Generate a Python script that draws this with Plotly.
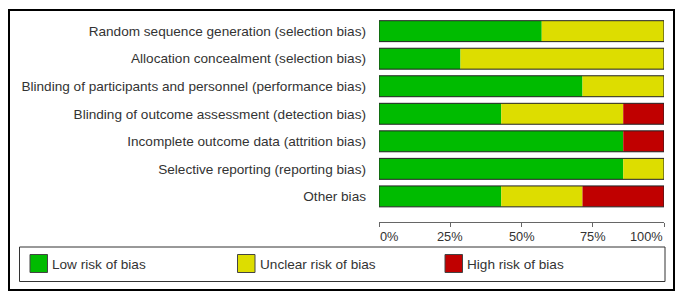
import plotly.graph_objects as go

W, H = 684, 298

categories = [
    "Random sequence generation (selection bias)",
    "Allocation concealment (selection bias)",
    "Blinding of participants and personnel (performance bias)",
    "Blinding of outcome assessment (detection bias)",
    "Incomplete outcome data (attrition bias)",
    "Selective reporting (reporting bias)",
    "Other bias",
]
low = [57.1, 28.6, 71.4, 42.9, 85.7, 85.7, 42.9]
unclear = [42.9, 71.4, 28.6, 42.8, 0.0, 14.3, 28.5]
high = [0.0, 0.0, 0.0, 14.3, 14.3, 0.0, 28.6]

series_names = ["Low risk of bias", "Unclear risk of bias", "High risk of bias"]
series_colors = ["#00BB00", "#DDDD00", "#C00000"]
tick_values = [0, 25, 50, 75, 100]
tick_labels = ["0%", "25%", "50%", "75%", "100%"]

FONT = "Liberation Sans, Arial, sans-serif"
TXT = "#333333"

def px_x(v):
    return v / W

def px_y(v):
    return (H - v) / H

base_unclear = low[:]
base_high = [a + b for a, b in zip(low, unclear)]
total = [a + b + c for a, b, c in zip(low, unclear, high)]

BW = 0.76
fig = go.Figure()
for vals, base, name, col in [
    (low, [0] * len(low), series_names[0], series_colors[0]),
    (unclear, base_unclear, series_names[1], series_colors[1]),
    (high, base_high, series_names[2], series_colors[2]),
]:
    fig.add_trace(go.Bar(
        y=categories, x=vals, base=base, orientation="h", name=name,
        marker=dict(color=col, line=dict(width=0)), width=BW,
        cliponaxis=False, showlegend=False,
    ))
# outline of each whole bar
fig.add_trace(go.Bar(
    y=categories, x=total, base=[0] * len(total), orientation="h",
    marker=dict(color="rgba(0,0,0,0)", line=dict(color="#222222", width=1)),
    width=BW, cliponaxis=False, showlegend=False, hoverinfo="skip",
))

fig.update_layout(
    width=W, height=H,
    margin=dict(l=0, r=0, t=0, b=0),
    paper_bgcolor="white", plot_bgcolor="white",
    barmode="overlay",
    font=dict(family=FONT, size=13.6, color=TXT),
    xaxis=dict(
        domain=[px_x(379), px_x(664)], range=[0, 100],
        showgrid=False, zeroline=False, showline=True, linecolor="#666666", linewidth=1,
        ticks="outside", ticklen=4, tickcolor="#666666", tickvals=tick_values,
        showticklabels=False, automargin=False, fixedrange=True,
    ),
    yaxis=dict(
        domain=[px_y(222), px_y(17.4)], type="category",
        categoryorder="array", categoryarray=categories,
        range=[6.93, -0.5], showgrid=False, zeroline=False, showline=False,
        ticks="", ticklabelstandoff=12, automargin=False,
        tickfont=dict(family=FONT, size=13.6, color=TXT), fixedrange=True,
    ),
)

annotations = []
for v, t in zip(tick_values, tick_labels):
    anchor = "left" if v == tick_values[0] else ("right" if v == tick_values[-1] else "center")
    annotations.append(dict(
        x=v, xref="x", y=px_y(236), yref="paper", text=t, showarrow=False,
        xanchor=anchor, yanchor="middle", xshift=(-1 if anchor == "left" else (1 if anchor == "right" else 0)),
        font=dict(family=FONT, size=12.8, color=TXT),
    ))

shapes = [
    dict(type="rect", xref="paper", yref="paper", x0=px_x(9), x1=px_x(674),
         y0=px_y(290), y1=px_y(10), line=dict(color="#000000", width=2), layer="below"),
    dict(type="rect", xref="paper", yref="paper", x0=px_x(19.5), x1=px_x(665),
         y0=px_y(281.5), y1=px_y(247), line=dict(color="#333333", width=1), layer="below"),
]
leg_x = [30, 237.5, 445]
for lx, name, col in zip(leg_x, series_names, series_colors):
    shapes.append(dict(type="rect", xref="paper", yref="paper", x0=px_x(lx), x1=px_x(lx + 17.5),
                       y0=px_y(272.5), y1=px_y(254.5), fillcolor=col,
                       line=dict(color="#444444", width=1)))
    annotations.append(dict(
        x=px_x(lx + 20), xref="paper", y=px_y(264), yref="paper", text=name, showarrow=False,
        xanchor="left", yanchor="middle", font=dict(family=FONT, size=13.6, color=TXT),
    ))

fig.update_layout(shapes=shapes, annotations=annotations)
fig.write_html(
    "out.html",
    config={"displayModeBar": False},
    post_script="document.body.style.margin='0';document.body.style.overflow='hidden';",
)
